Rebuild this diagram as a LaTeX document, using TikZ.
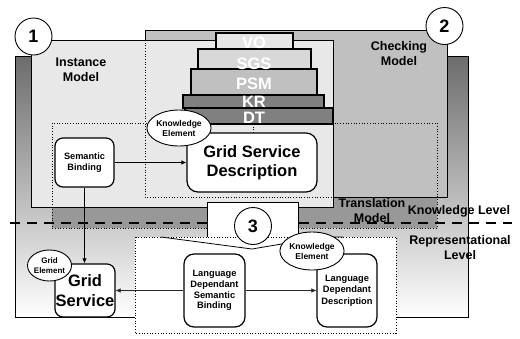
\documentclass[tikz,border=0pt]{standalone}
\usepackage{fontspec}
\setmainfont{Liberation Sans}
\usetikzlibrary{shapes.geometric,arrows.meta}
\definecolor{mone}{RGB}{232,232,232}
\definecolor{mtwo}{RGB}{192,192,192}
\definecolor{mtrans}{RGB}{152,152,152}
\definecolor{gtop}{RGB}{108,108,108}
\definecolor{lvo}{RGB}{230,230,230}
\definecolor{lsgs}{RGB}{216,216,216}
\definecolor{lpsm}{RGB}{192,192,192}
\definecolor{lkr}{RGB}{128,128,128}
\definecolor{ldt}{RGB}{128,128,128}
\tikzset{
  region/.style={draw=black, line width=0.9pt},
  dotline/.style={draw=black, dotted, line width=0.7pt},
  bigtxt/.style={font=\bfseries\fontsize{12.5}{15}\selectfont, align=center, inner sep=0pt},
  laytxt/.style={font=\bfseries\fontsize{16.5}{16.5}\selectfont, text=white, inner sep=0pt},
  layer/.style={draw=black, line width=2pt},
  numcirc/.style={circle, draw=black, fill=white, line width=0.9pt, minimum size=37pt, inner sep=0pt, font=\bfseries\fontsize{18}{18}\selectfont},
  rbox/.style={draw=black, fill=white, line width=1.2pt, rounded corners=8pt, inner sep=0pt, align=center},
  kel/.style={ellipse, draw=black, fill=white, line width=0.9pt, inner sep=0pt, align=center, font=\bfseries\fontsize{8.5}{10}\selectfont},
  conn/.style={draw=black, line width=1.1pt, -{Latex[length=5pt,width=4.5pt]}},
  thinconn/.style={draw=black!85, line width=0.6pt, -{Latex[length=5pt,width=4.5pt]}},
}
\begin{document}
\begin{tikzpicture}[x=1pt,y=-1pt]
\useasboundingbox (0,0) rectangle (520,338);
\fill[white] (0,0) rectangle (520,338);
% big gradient region
\shade[top color=gtop, bottom color=white] (15,56) rectangle (468,317);
\draw[region] (15,56) rectangle (468,317);
% translation band fill
\fill[mtrans] (52,123) rectangle (437,228);
% checking model
\fill[mtwo] (145,30) rectangle (447,197);
\draw[region] (145,30) rectangle (447,197);
% instance model
\fill[mone] (31,40) rectangle (333,207);
\draw[region] (31,40) rectangle (333,207);
% dotted outlines
\draw[dotline] (145,40) -- (145,197) -- (333,197);
\draw[dotline] (52,123) rectangle (437,228);
% level line
\draw[black, line width=2.3pt, dash pattern=on 10pt off 7pt] (10,223) -- (512,223);
% labels of models
\node[bigtxt] (imod) at (81,69.5) {Instance\\Model};
\node[bigtxt] (cmod) at (399,53.5) {Checking\\Model};
\node[bigtxt] (tmod) at (372,210.5) {Translation\\Model};
\node[bigtxt] (klev) at (459,211) {Knowledge Level};
\node[bigtxt] (rlev) at (460,247.5) {Representational\\Level};
% callout 3 and representational area
\fill[white] (207,202) rectangle (298,238);
\draw[black, line width=0.8pt] (207,237) -- (207,202) -- (298,202) -- (298,237);
\fill[white] (135,237) rectangle (396,333);
\draw[dotline] (135,237) rectangle (396,333);
\coordinate (va) at (161,237);
\coordinate (vb) at (252,249);
\coordinate (vc) at (323,237);
\coordinate (vd) at (343,237);
\draw[black, line width=0.8pt] (va) -- (vb) -- (vc) -- (vd);
% pyramid
\draw[layer, fill=lvo] (216,33) rectangle (293,49);
\draw[layer, fill=lsgs] (198,49) rectangle (311,69);
\draw[layer, fill=lpsm] (191,69) rectangle (317,95);
\draw[layer, fill=lkr] (183,95) rectangle (324,108);
\draw[layer, fill=ldt] (185,108) rectangle (333,124);
\node[laytxt] (vo) at (254,42.5) {VO};
\node[laytxt] (sgs) at (254,64) {SGS};
\node[laytxt] (psm) at (254,84) {PSM};
\node[laytxt] (kr) at (254,102) {KR};
\node[laytxt] (dt) at (254,117.5) {DT};
\coordinate (dtb) at (253,124);
% numbered circles
\node[numcirc] (c1) at (33.5,36.5) {1};
\node[numcirc] (c2) at (444.5,26) {2};
\node[numcirc] (c3) at (253,226) {3};
% boxes
\node[rbox, minimum width=59pt, minimum height=49pt, font=\bfseries\fontsize{9.2}{11}\selectfont] (sb) at (84.5,162.5) {Semantic\\Binding};
\node[rbox, rounded corners=11pt, minimum width=130pt, minimum height=59pt, font=\bfseries\fontsize{16.5}{19.5}\selectfont] (gsd) at (252,162.5) {Grid Service\\Description};
\node[rbox, minimum width=60pt, minimum height=53pt, font=\bfseries\fontsize{16.5}{19.5}\selectfont] (gs) at (85,290.5) {Grid\\Service};
\node[rbox, rounded corners=10pt, minimum width=61pt, minimum height=73pt, font=\bfseries\fontsize{9.3}{10.8}\selectfont] (ldsb) at (214.5,290.5) {Language\\Dependant\\Semantic\\Binding};
\node[rbox, rounded corners=10pt, minimum width=60pt, minimum height=73pt, font=\bfseries\fontsize{9.3}{11.5}\selectfont] (ldd) at (347,290.5) {Language\\Dependant\\Description};
% connectors
\draw[dotline] (dtb) -- (dtb |- gsd.north);
\draw[conn] (sb.east) -- (gsd.west);
\draw[conn] (sb.south) -- (sb.south |- gs.north);
\draw[thinconn] (ldsb.west) -- (gs.east);
\draw[thinconn] (ldsb.east) -- (ldd.west);
% ellipses
\node[kel, minimum width=46pt, minimum height=36pt] (ke1) at (179,128) {Knowledge\\Element};
\node[kel, minimum width=52pt, minimum height=38pt] (ke2) at (312,251) {Knowledge\\Element};
\node[kel, minimum width=37pt, minimum height=31pt, font=\bfseries\fontsize{8}{10}\selectfont] (ge) at (49.5,265.5) {Grid\\Element};
\end{tikzpicture}
\end{document}
